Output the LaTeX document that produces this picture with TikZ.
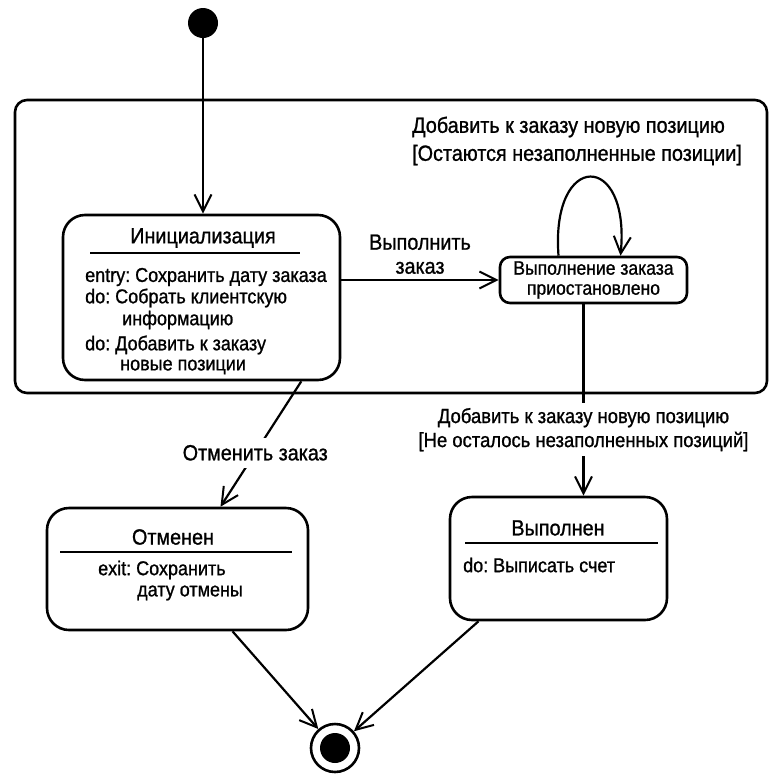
\documentclass[tikz,border=0pt]{standalone}
\usepackage{fontspec}
\setmainfont{Liberation Sans}[FakeStretch=0.9, FakeBold=1]
\usetikzlibrary{arrows.meta, calc}

\begin{document}
\begin{tikzpicture}[x=1pt, y=-1pt,
  state/.style={draw, line width=2.6pt, rounded corners=22pt, inner sep=0pt},
  trans/.style={line width=2.2pt, -{Straight Barb[length=17pt, width=17pt, line width=2pt]}},
  lbl/.style={font=\fontsize{20}{22.5}\selectfont\frenchspacing, inner sep=0pt},
  tlbl/.style={font=\fontsize{22}{24}\selectfont\frenchspacing, inner sep=0pt},
  sep/.style={line width=2.2pt}
]
\useasboundingbox (0,0) rectangle (770,774);

% Superstate frame
\draw[line width=2.6pt, rounded corners=12pt] (15,100) rectangle (767,393);

% Initial and final states
\node[circle, fill, minimum size=30pt, inner sep=0pt] (start) at (203,23) {};
\node[circle, draw, line width=2.6pt, minimum size=48pt, inner sep=0pt] (stop) at (335,748) {};
\node[circle, fill, minimum size=30pt, inner sep=0pt] (stopdot) at (stop) {};

% States
\node[state, minimum width=277pt, minimum height=165pt] (init) at (201.5,297.5) {};
\node[state, rounded corners=10pt, minimum width=187pt, minimum height=46pt] (susp) at (593.5,280) {};
\node[state, minimum width=261pt, minimum height=122pt] (canc) at (177.5,569) {};
\node[state, minimum width=217pt, minimum height=123pt] (done) at (558.5,558.5) {};

% Initialization contents
\node[tlbl] (initT) at (203,238) {Инициализация};
\draw[sep] (90,253) -- (300,253);
\node[lbl, anchor=west] (initA) at (85,277) {entry: Сохранить дату заказа};
\node[lbl, anchor=west] (initB) at (85,298) {do: Собрать клиентскую};
\node[lbl, anchor=west] (initC) at (122,320) {информацию};
\node[lbl, anchor=west] (initD) at (85,345) {do: Добавить к заказу};
\node[lbl, anchor=west] (initE) at (120,367) {новые позиции};

% Suspended contents
\node[lbl, font=\fontsize{19.5}{20}\selectfont, align=center] (suspT) at (susp) {Выполнение заказа\\приостановлено};

% Cancelled contents
\node[tlbl] (cancT) at (173,537) {Отменен};
\draw[sep] (60,552) -- (292,552);
\node[lbl, anchor=west] (cancA) at (98,570) {exit: Сохранить};
\node[lbl, anchor=west] (cancB) at (137,593) {дату отмены};

% Completed contents
\node[tlbl] (doneT) at (558,528) {Выполнен};
\draw[sep] (465,543) -- (658,543);
\node[lbl, anchor=west] (doneA) at (463,565) {do: Выписать счет};

% Transitions
\draw[trans] (start) -- (start |- init.north);
\draw[trans] (init.east |- susp.west) -- node[tlbl, above=5pt, align=center] {Выполнить\\заказ} (susp.west);
\draw[trans] ([xshift=-35]susp.north) .. controls +(-8,-105) and +(10,-105) .. ([xshift=27]susp.north);
\node[tlbl, font=\fontsize{22}{28}\selectfont\frenchspacing, align=left, anchor=west] (loopL) at (412,141)
  {Добавить к заказу новую позицию\\{[Остаются незаполненные позиции]}};
\draw[trans] ([xshift=-10]susp.south) -- node[lbl, font=\fontsize{20.5}{24}\selectfont\frenchspacing, fill=white, align=center, pos=0.655, inner ysep=5pt]
  {Добавить к заказу новую позицию\\{[Не осталось незаполненных позиций]}} ([xshift=25]done.north);
\draw[trans] ([xshift=-40]init.south east) -- node[tlbl, fill=white, pos=0.57, inner ysep=7pt] {Отменить заказ} ([xshift=43]canc.north);
\draw[trans] ([xshift=55]canc.south) -- (stop);
\draw[trans] ([xshift=-80]done.south) -- (stop);

\end{tikzpicture}
\end{document}
